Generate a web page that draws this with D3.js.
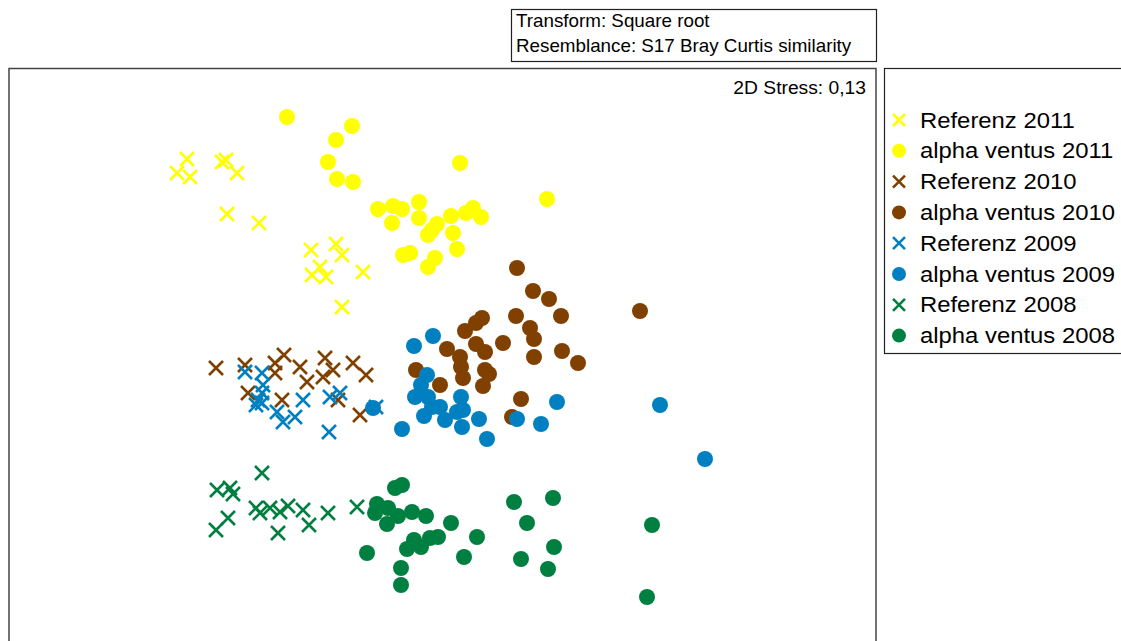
<!DOCTYPE html>
<html>
<head>
<meta charset="utf-8">
<script src="https://cdn.jsdelivr.net/npm/d3@7"></script>
<style>
  body { margin: 0; background: #fff; }
  svg { display: block; font-family: "Liberation Sans", Arial, sans-serif; }
</style>
</head>
<body>
<svg width="1121" height="641"></svg>
<script>

// nMDS coordinates per group, [x, y]
const ref2011 = [[-2.63,1.57],[-2.53,1.71],[-2.50,1.53],[-2.18,1.68],[-2.14,1.70],[-2.03,1.57],[-2.13,1.16],[-1.81,1.07],
    [-1.29,0.80],[-1.04,0.86],[-0.98,0.75],[-1.20,0.63],[-1.28,0.55],[-1.14,0.53],[-0.77,0.58],[-0.98,0.23]];
const av2011 = [[-1.53,2.13],[-0.88,2.04],[-1.04,1.90],[-1.12,1.68],[-1.03,1.51],[-0.87,1.48],[0.20,1.67],[1.07,1.31],
    [-0.62,1.21],[-0.47,1.24],[-0.38,1.21],[-0.21,1.28],[-0.48,1.07],[-0.21,1.12],[-0.03,1.06],[-0.08,1.00],[-0.12,0.95],
    [0.11,1.14],[0.26,1.17],[0.33,1.22],[0.41,1.13],[0.13,0.97],[0.17,0.81],[-0.37,0.75],[-0.30,0.77],[-0.05,0.72],[-0.12,0.63]];
const ref2010 = [[-2.24,-0.38],[-1.95,-0.35],[-1.65,-0.33],[-1.56,-0.25],[-1.65,-0.43],[-1.40,-0.37],[-1.15,-0.28],[-1.07,-0.40],
    [-1.17,-0.47],[-1.33,-0.52],[-0.87,-0.33],[-0.74,-0.45],[-1.92,-0.63],[-1.58,-0.70],[-1.02,-0.70],[-0.80,-0.85]];
const av2010 = [[0.77,0.62],[0.93,0.39],[1.09,0.31],[1.21,0.14],[0.76,0.14],[0.90,0.02],[0.94,-0.09],[0.94,-0.27],[1.22,-0.21],
    [1.38,-0.33],[2.00,0.19],[0.42,0.12],[0.36,0.07],[0.25,-0.01],[0.63,-0.13],[0.36,-0.14],[0.45,-0.22],[0.07,-0.19],[0.20,-0.27],
    [0.21,-0.37],[0.23,-0.48],[0.45,-0.40],[0.49,-0.44],[0.43,-0.56],[-0.24,-0.40],[0.00,-0.55],[0.81,-0.69],[0.72,-0.87]];
const ref2009 = [[-1.95,-0.42],[-1.78,-0.43],[-1.77,-0.55],[-1.78,-0.63],[-1.82,-0.70],[-1.84,-0.75],[-1.78,-0.73],[-1.63,-0.82],
    [-1.57,-0.92],[-1.45,-0.87],[-1.37,-0.70],[-1.10,-0.67],[-1.00,-0.63],[-1.11,-1.02],[-0.64,-0.77]];
const av2009 = [[-0.07,-0.06],[-0.26,-0.16],[-0.13,-0.45],[-0.19,-0.55],[-0.25,-0.67],[-0.12,-0.67],[-0.08,-0.77],[0.00,-0.77],
    [-0.16,-0.86],[0.05,-0.90],[0.17,-0.82],[0.23,-0.80],[0.21,-0.67],[0.22,-0.97],[0.39,-0.89],[0.47,-1.09],[-0.38,-0.99],
    [0.77,-0.89],[1.01,-0.94],[1.17,-0.72],[2.20,-0.75],[2.65,-1.29],[-0.67,-0.78]];
const ref2008 = [[-1.78,-1.43],[-2.23,-1.60],[-2.10,-1.58],[-2.07,-1.64],[-1.84,-1.78],[-1.80,-1.83],[-1.70,-1.78],[-1.60,-1.82],
    [-1.52,-1.76],[-1.37,-1.80],[-1.31,-1.95],[-1.12,-1.83],[-0.83,-1.77],[-2.12,-1.88],[-2.24,-2.00],[-1.62,-2.03]];
const av2008 = [[-0.38,-1.55],[-0.45,-1.58],[-0.63,-1.74],[-0.52,-1.78],[-0.65,-1.83],[-0.42,-1.86],[-0.28,-1.82],[-0.14,-1.86],
    [-0.53,-1.94],[0.11,-1.93],[-0.26,-2.10],[-0.33,-2.19],[-0.19,-2.17],[-0.10,-2.08],[-0.02,-2.07],[0.37,-2.07],[-0.73,-2.23],
    [0.24,-2.27],[-0.39,-2.38],[-0.39,-2.55],[0.74,-1.72],[1.13,-1.68],[0.87,-1.93],[1.14,-2.17],[0.81,-2.29],[1.08,-2.39],
    [2.12,-1.95],[2.07,-2.67]];

const groups = [
    {name: 'Referenz 2011', shape: 'x', color: '#ffff00', pts: ref2011},
    {name: 'alpha ventus 2011', shape: 'o', color: '#ffff00', pts: av2011},
    {name: 'Referenz 2010', shape: 'x', color: '#804000', pts: ref2010},
    {name: 'alpha ventus 2010', shape: 'o', color: '#804000', pts: av2010},
    {name: 'Referenz 2009', shape: 'x', color: '#0080c0', pts: ref2009},
    {name: 'alpha ventus 2009', shape: 'o', color: '#0080c0', pts: av2009},
    {name: 'Referenz 2008', shape: 'x', color: '#008040', pts: ref2008},
    {name: 'alpha ventus 2008', shape: 'o', color: '#008040', pts: av2008}
];

const svg = d3.select('svg');

const x = d3.scaleLinear().domain([-4.31, 4.36]).range([9, 876]);
const y = d3.scaleLinear().domain([2.62, -3.2]).range([68, 650]);

// header box (text is a bit wider than Liberation Sans, so stretch it)
svg.append('rect').attr('x', 511.5).attr('y', 9.5).attr('width', 365).attr('height', 52)
    .attr('fill', 'none').attr('stroke', '#222').attr('stroke-width', 1.2);
svg.append('text').attr('transform', 'translate(516,27) scale(1.045,1)')
    .attr('font-size', 18).text('Transform: Square root');
svg.append('text').attr('transform', 'translate(516,52) scale(1.045,1)')
    .attr('font-size', 18).text('Resemblance: S17 Bray Curtis similarity');

// plot frame
svg.append('rect').attr('x', 9).attr('y', 68.5).attr('width', 867).attr('height', 700)
    .attr('fill', 'none').attr('stroke', '#444').attr('stroke-width', 1.5);
svg.append('text').attr('transform', 'translate(866,94) scale(1.07,1)')
    .attr('font-size', 18).attr('text-anchor', 'end')
    .text('2D Stress: 0,13');

const cross = 7;

function drawSym(g, shape, color, r, c) {
    if (shape === 'o') {
        g.append('circle').attr('r', r).attr('fill', color);
    } else {
        g.append('path')
            .attr('d', `M${-c},${-c}L${c},${c}M${-c},${c}L${c},${-c}`)
            .attr('stroke', color).attr('stroke-width', 2.6).attr('fill', 'none');
    }
}

const plot = svg.append('g');
groups.forEach(grp => {
    plot.selectAll(null)
        .data(grp.pts)
        .enter()
        .append('g')
            .attr('transform', d => `translate(${x(d[0])},${y(d[1])})`)
            .each(function() { drawSym(d3.select(this), grp.shape, grp.color, 8, cross); });
});

// legend
svg.append('rect').attr('x', 884.5).attr('y', 68.5).attr('width', 260).attr('height', 285)
    .attr('fill', 'none').attr('stroke', '#222').attr('stroke-width', 1.2);

const leg = svg.selectAll('.leg')
    .data(groups)
    .enter()
    .append('g')
        .attr('class', 'leg')
        .attr('transform', (d, i) => `translate(899,${120 + i * 30.8})`);

leg.each(function(d) { drawSym(d3.select(this), d.shape, d.color, 7, 6); });
leg.append('text')
    .attr('transform', 'translate(21,7.5) scale(1.11,1)')
    .attr('font-size', 21.5)
    .text(d => d.name);

</script>
</body>
</html>
